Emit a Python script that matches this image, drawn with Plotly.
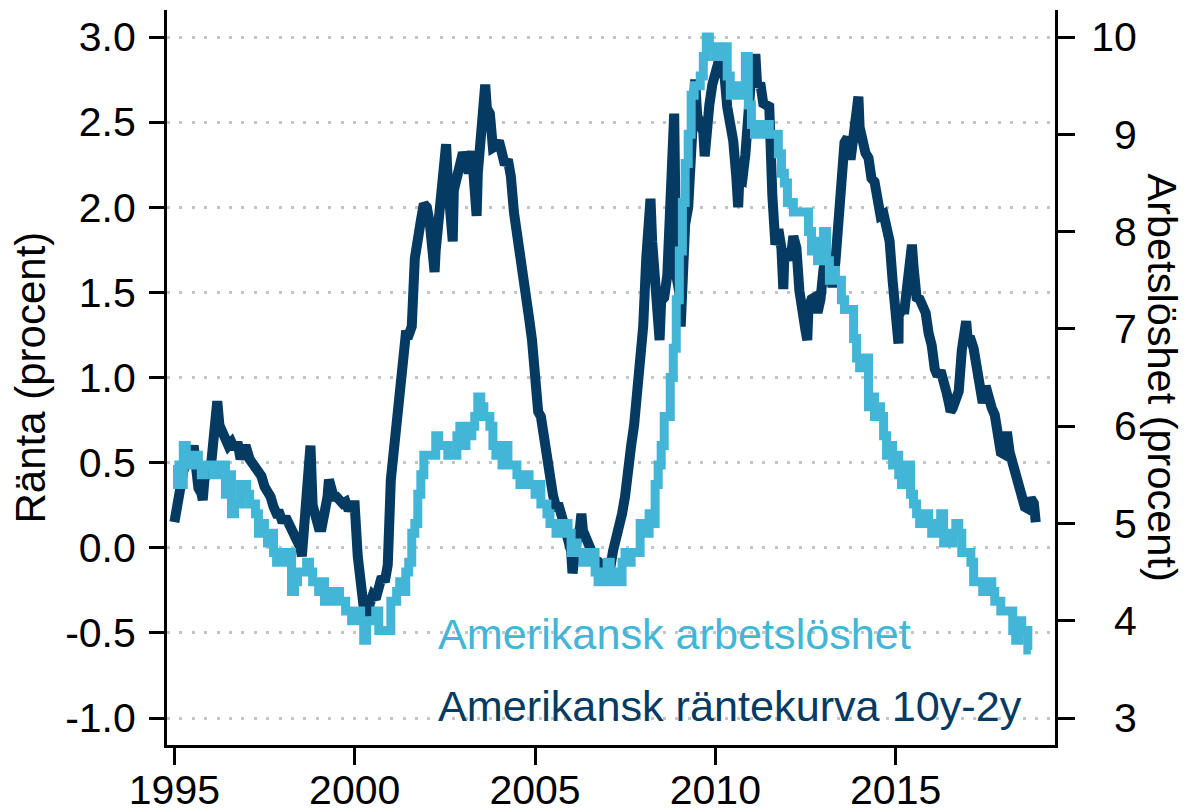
import pandas as pd
import plotly.graph_objects as go

# ---------------- data ----------------
# US 10y-2y yield spread (percentage points), monthly readings Jan 1995 - Nov 2018
spread_monthly = [
    0.15, 0.28, 0.40, 0.45, 0.50, 0.52, 0.55, 0.45, 0.35, 0.32, 0.40, 0.45,   # 1995
    0.45, 0.60, 0.78, 0.72, 0.67, 0.62, 0.60, 0.62, 0.58, 0.62, 0.52, 0.58,   # 1996
    0.58, 0.52, 0.50, 0.48, 0.45, 0.42, 0.36, 0.33, 0.30, 0.24, 0.20, 0.20,   # 1997
    0.15, 0.18, 0.15, 0.12, 0.06, 0.03, 0.00, 0.12, 0.30, 0.50, 0.25, 0.15,   # 1998
    0.12, 0.12, 0.18, 0.30, 0.33, 0.30, 0.30, 0.28, 0.26, 0.27, 0.22, 0.25,   # 1999
    0.25, -0.05, -0.25, -0.35, -0.37, -0.33, -0.28, -0.30, -0.25, -0.17, -0.20, -0.10,  # 2000
    0.40, 0.60, 0.75, 1.00, 1.20, 1.25, 1.25, 1.30, 1.70, 1.88, 1.92, 2.02,   # 2001
    2.00, 1.90, 1.72, 1.75, 1.92, 2.00, 2.20, 2.15, 1.90, 2.10, 2.20, 2.25,   # 2002
    2.32, 2.28, 2.20, 2.33, 2.12, 2.20, 2.50, 2.65, 2.58, 2.55, 2.35, 2.36,   # 2003
    2.39, 2.34, 2.25, 2.28, 2.18, 1.97, 1.86, 1.77, 1.60, 1.50, 1.35, 1.22,   # 2004
    1.00, 0.80, 0.77, 0.65, 0.50, 0.36, 0.31, 0.24, 0.24, 0.18, 0.12, 0.06,   # 2005
    -0.02, -0.05, 0.05, 0.12, 0.10, 0.05, 0.00, -0.05, -0.07, -0.08, -0.10, -0.12,  # 2006
    -0.10, -0.12, -0.02, 0.05, 0.10, 0.20, 0.30, 0.50, 0.60, 0.72, 0.92, 1.05,  # 2007
    1.30, 1.70, 1.90, 1.80, 1.55, 1.35, 1.45, 1.47, 1.60, 2.10, 2.35, 1.60,   # 2008
    1.50, 1.80, 1.90, 2.00, 2.36, 2.55, 2.54, 2.47, 2.44, 2.44, 2.60, 2.72,   # 2009
    2.80, 2.83, 2.77, 2.79, 2.59, 2.48, 2.39, 2.18, 2.17, 2.16, 2.31, 2.67,   # 2010
    2.78, 2.81, 2.71, 2.73, 2.61, 2.59, 2.59, 2.07, 1.78, 1.87, 1.76, 1.72,   # 2011
    1.73, 1.69, 1.83, 1.76, 1.51, 1.33, 1.28, 1.41, 1.46, 1.47, 1.38, 1.46,   # 2012
    1.64, 1.71, 1.70, 1.53, 1.68, 1.97, 2.24, 2.38, 2.41, 2.28, 2.42, 2.56,   # 2013
    2.47, 2.38, 2.32, 2.29, 2.17, 2.15, 2.03, 1.95, 1.96, 1.85, 1.80, 1.57,   # 2014
    1.33, 1.36, 1.40, 1.40, 1.59, 1.67, 1.65, 1.47, 1.46, 1.43, 1.38, 1.26,   # 2015
    1.19, 1.05, 1.01, 1.04, 0.99, 0.91, 0.83, 0.82, 0.86, 0.92, 1.16, 1.29,   # 2016
    1.22, 1.22, 1.17, 1.06, 1.00, 0.85, 0.95, 0.87, 0.82, 0.78, 0.65, 0.56,   # 2017
    0.55, 0.68, 0.56, 0.49, 0.47, 0.38, 0.28, 0.24, 0.23, 0.29, 0.26,         # 2018
]
spread_start = "1995-01-01"

# intra-month extremes visible in the chart
spread_extra_dates = [
    "1995-07-15", "1995-10-15", "1996-03-10", "1998-07-15", "1998-10-10",
    "1999-04-15", "2000-05-15", "2002-03-20", "2002-07-15", "2002-09-20",
    "2003-05-20", "2003-08-15", "2006-01-15", "2006-04-15", "2008-03-15",
    "2008-06-15", "2008-11-10", "2009-01-15", "2009-06-10", "2009-09-15",
    "2010-02-15", "2010-08-20", "2011-02-10", "2011-11-20", "2012-07-20",
    "2013-12-20", "2015-01-30", "2015-06-15", "2016-07-10", "2016-12-15",
    "2018-11-20",
]
spread_extra_values = [
    0.60, 0.28, 0.86, -0.05, 0.60,
    0.40, -0.40, 1.62, 2.37, 1.80,
    1.95, 2.72, -0.15, 0.20, 2.05,
    1.22, 2.55, 1.30, 2.75, 2.30,
    2.88, 2.00, 2.90, 1.52, 1.22,
    2.65, 1.20, 1.78, 0.80, 1.33,
    0.15,
]

# US unemployment rate (percent), monthly Jan 1995 - Oct 2018
unemployment = [
    5.6, 5.4, 5.4, 5.8, 5.6, 5.6, 5.7, 5.7, 5.6, 5.5, 5.6, 5.6,   # 1995
    5.6, 5.5, 5.5, 5.6, 5.6, 5.3, 5.5, 5.1, 5.2, 5.2, 5.4, 5.4,   # 1996
    5.3, 5.2, 5.2, 5.1, 4.9, 5.0, 4.9, 4.8, 4.9, 4.7, 4.6, 4.7,   # 1997
    4.6, 4.6, 4.7, 4.3, 4.4, 4.5, 4.5, 4.5, 4.6, 4.5, 4.4, 4.4,   # 1998
    4.3, 4.4, 4.2, 4.3, 4.2, 4.3, 4.3, 4.2, 4.2, 4.1, 4.1, 4.0,   # 1999
    4.0, 4.1, 4.0, 3.8, 4.0, 4.0, 4.0, 4.1, 3.9, 3.9, 3.9, 3.9,   # 2000
    4.2, 4.2, 4.3, 4.4, 4.3, 4.5, 4.6, 4.9, 5.0, 5.3, 5.5, 5.7,   # 2001
    5.7, 5.7, 5.7, 5.9, 5.8, 5.8, 5.8, 5.7, 5.7, 5.7, 5.9, 6.0,   # 2002
    5.8, 5.9, 5.9, 6.0, 6.1, 6.3, 6.2, 6.1, 6.1, 6.0, 5.8, 5.7,   # 2003
    5.7, 5.6, 5.8, 5.6, 5.6, 5.6, 5.5, 5.4, 5.4, 5.5, 5.4, 5.4,   # 2004
    5.3, 5.4, 5.2, 5.2, 5.1, 5.0, 5.0, 4.9, 5.0, 5.0, 5.0, 4.9,   # 2005
    4.7, 4.8, 4.7, 4.7, 4.6, 4.6, 4.7, 4.7, 4.5, 4.4, 4.5, 4.4,   # 2006
    4.6, 4.5, 4.4, 4.5, 4.4, 4.6, 4.7, 4.6, 4.7, 4.7, 4.7, 5.0,   # 2007
    5.0, 4.9, 5.1, 5.0, 5.4, 5.6, 5.8, 6.1, 6.1, 6.5, 6.8, 7.3,   # 2008
    7.8, 8.3, 8.7, 9.0, 9.4, 9.5, 9.5, 9.6, 9.8, 10.0, 9.9, 9.9,  # 2009
    9.8, 9.8, 9.9, 9.9, 9.6, 9.4, 9.4, 9.5, 9.5, 9.4, 9.8, 9.3,   # 2010
    9.1, 9.0, 9.0, 9.1, 9.0, 9.1, 9.0, 9.0, 9.0, 8.8, 8.6, 8.5,   # 2011
    8.3, 8.3, 8.2, 8.2, 8.2, 8.2, 8.2, 8.0, 7.8, 7.8, 7.7, 7.9,   # 2012
    8.0, 7.7, 7.5, 7.6, 7.5, 7.5, 7.3, 7.2, 7.2, 7.2, 6.9, 6.7,   # 2013
    6.6, 6.7, 6.7, 6.2, 6.3, 6.1, 6.2, 6.1, 5.9, 5.7, 5.8, 5.6,   # 2014
    5.7, 5.5, 5.4, 5.4, 5.6, 5.3, 5.2, 5.1, 5.0, 5.0, 5.1, 5.0,   # 2015
    4.9, 4.9, 5.0, 5.1, 4.8, 4.9, 4.8, 4.9, 5.0, 4.9, 4.7, 4.7,   # 2016
    4.7, 4.6, 4.4, 4.4, 4.4, 4.3, 4.3, 4.4, 4.3, 4.2, 4.2, 4.1,   # 2017
    4.1, 4.1, 4.1, 3.9, 3.8, 4.0, 3.9, 3.9, 3.7, 3.7,             # 2018
]
unemployment_start = "1995-01-01"

x_tick_years = ["1995", "2000", "2005", "2010", "2015"]
left_ticks = [-1.0, -0.5, 0.0, 0.5, 1.0, 1.5, 2.0, 2.5, 3.0]
right_ticks = [3, 4, 5, 6, 7, 8, 9, 10]

label_unemp = "Amerikansk arbetslöshet"
label_spread = "Amerikansk räntekurva 10y-2y"
title_left = "Ränta (procent)"
title_right = "Arbetslöshet (procent)"

# ---------------- build ----------------
DARK = "#053B62"
LIGHT = "#43B5D7"
FONT = "Liberation Sans, Arial, sans-serif"

sp = pd.DataFrame({
    "date": pd.date_range(spread_start, periods=len(spread_monthly), freq="MS"),
    "v": spread_monthly,
})
sp_extra = pd.DataFrame({"date": pd.to_datetime(spread_extra_dates), "v": spread_extra_values})
sp = pd.concat([sp, sp_extra]).sort_values("date")

un_dates = pd.date_range(unemployment_start, periods=len(unemployment), freq="MS")

fig = go.Figure()
fig.add_trace(go.Scatter(
    x=sp["date"], y=sp["v"], mode="lines", name=label_spread,
    line=dict(color=DARK, width=10), yaxis="y", showlegend=False,
))
fig.add_trace(go.Scatter(
    x=un_dates, y=unemployment, mode="lines", name=label_unemp,
    line=dict(color=LIGHT, width=9, shape="hv"), yaxis="y2", showlegend=False,
))

L_LO, L_HI = -1.1586, 3.1586
R_LO = 10 + (L_LO - 3) * 1.75
R_HI = 10 + (L_HI - 3) * 1.75

PLOT_L, PLOT_R = 167, 1055
PW = PLOT_R - PLOT_L

fig.update_layout(
    width=1188, height=812,
    margin=dict(l=PLOT_L, r=1188 - PLOT_R, t=10, b=67, autoexpand=False),
    paper_bgcolor="white", plot_bgcolor="white",
    font=dict(family=FONT, color="black", size=41),
    xaxis=dict(
        type="date", range=["1994-10-18", "2019-06-03"], automargin=False,
        tickvals=[y + "-01-01" for y in x_tick_years], ticktext=x_tick_years,
        ticks="outside", ticklen=17, tickwidth=3, tickcolor="black",
        showline=True, linewidth=3, linecolor="black", ticklabelstandoff=-10,
        showgrid=False, zeroline=False, tickfont=dict(size=41),
    ),
    yaxis=dict(
        range=[L_LO, L_HI], tickvals=left_ticks, automargin=False,
        ticktext=[("%.1f" % v) for v in left_ticks],
        ticks="outside", ticklen=15, tickwidth=3, tickcolor="black",
        showline=True, linewidth=3, linecolor="black", ticklabelstandoff=5,
        showgrid=True, gridcolor="#C4C4C4", gridwidth=3, griddash="3px,9.4px",
        zeroline=False, tickfont=dict(size=41),
    ),
    yaxis2=dict(
        range=[R_LO, R_HI], overlaying="y", side="right", automargin=False,
        tickvals=right_ticks,
        ticktext=[("\u2007" + str(v)) if v < 10 else str(v) for v in right_ticks],
        ticks="outside", ticklen=17, tickwidth=3, tickcolor="black",
        showline=True, linewidth=3, linecolor="black", ticklabelstandoff=8,
        showgrid=False, zeroline=False, tickfont=dict(size=41),
    ),
    annotations=[
        dict(text=label_unemp, xref="paper", yref="paper", x=(436 - PLOT_L) / PW, y=0.1514,
             xanchor="left", yanchor="middle", showarrow=False,
             font=dict(size=43.2, color=LIGHT, family=FONT)),
        dict(text=label_spread, xref="paper", yref="paper", x=(436 - PLOT_L) / PW, y=0.0532,
             xanchor="left", yanchor="middle", showarrow=False,
             font=dict(size=43.2, color=DARK, family=FONT)),
        dict(text=title_left, xref="paper", yref="paper", x=(30 - PLOT_L) / PW, y=0.5,
             xanchor="center", yanchor="middle", showarrow=False, textangle=-90,
             borderpad=0, font=dict(size=42, color="black", family=FONT)),
        dict(text=title_right, xref="paper", yref="paper", x=(1162 - PLOT_L) / PW, y=0.5,
             xanchor="center", yanchor="middle", showarrow=False, textangle=90,
             borderpad=0, font=dict(size=41.5, color="black", family=FONT)),
    ],
)

fig.write_html("out.html", config={"displayModeBar": False},
               post_script="document.body.style.margin='0px';")
